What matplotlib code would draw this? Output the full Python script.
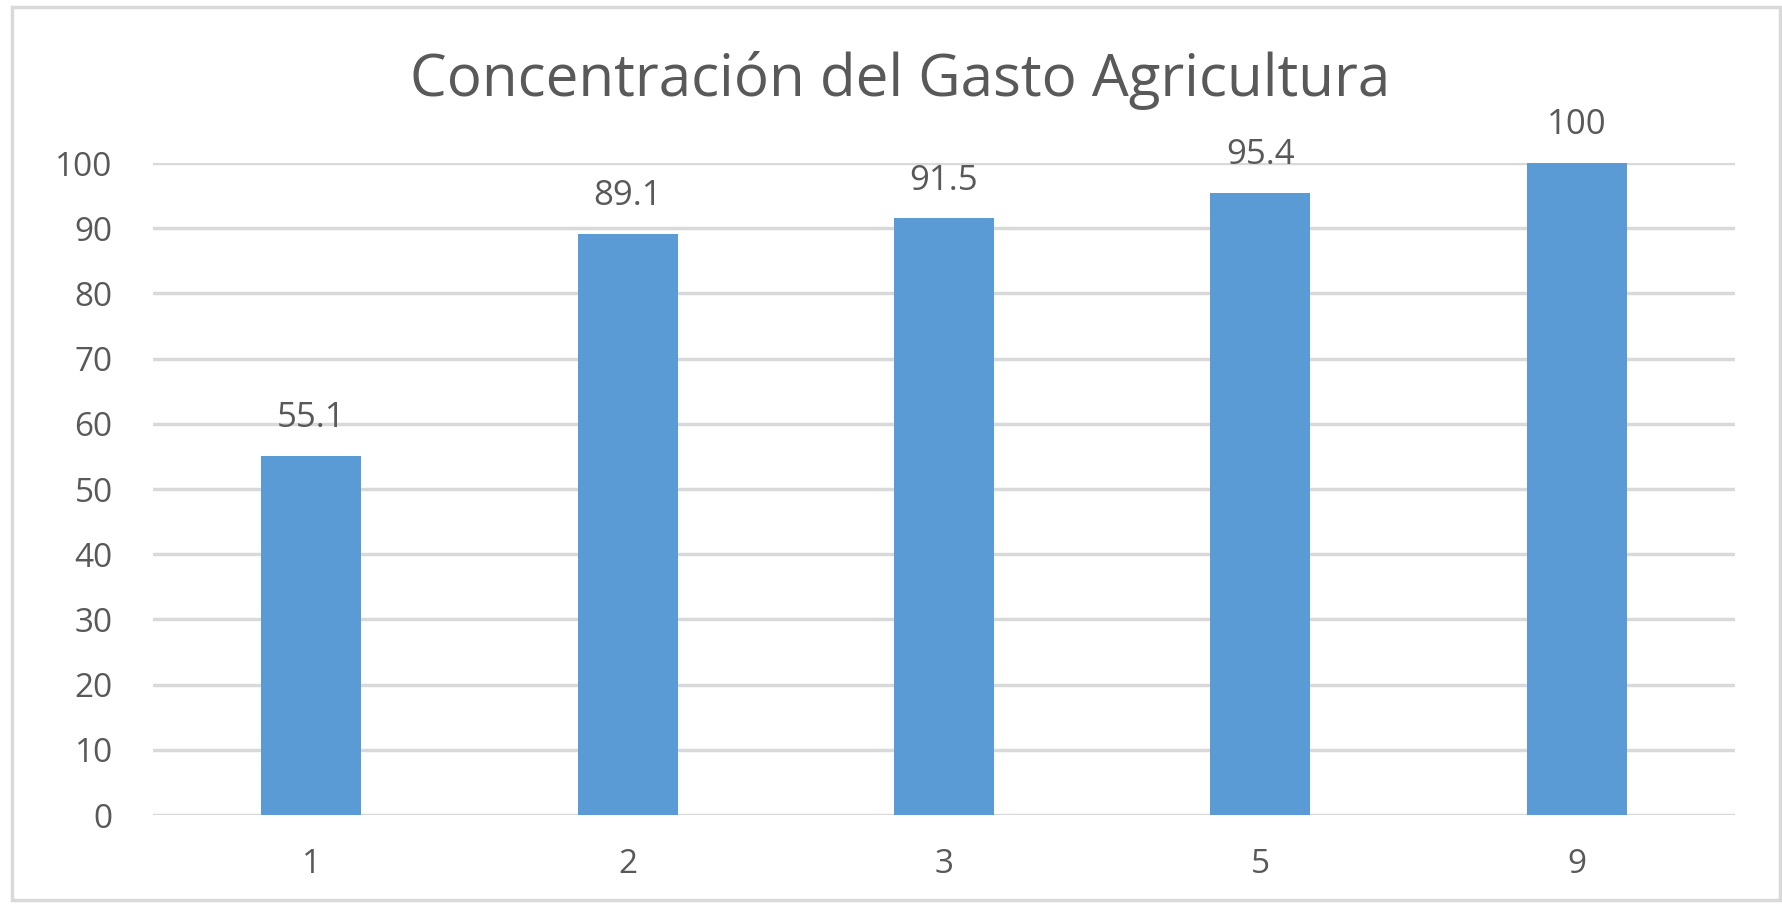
import numpy as np
import matplotlib.pyplot as plt
from matplotlib.patches import Rectangle

categorias = ['1', '2', '3', '5', '9']
valores = [55.1, 89.1, 91.5, 95.4, 100]
yticks = [0, 10, 20, 30, 40, 50, 60, 70, 80, 90, 100]

plt.rcParams['font.family'] = ['Open Sans', 'DejaVu Sans']
gris = '#595959'

fig = plt.figure(figsize=(17.82, 9.06), dpi=100)
W, H = 1782, 906
ax = fig.add_axes([153 / W, 1 - 815 / H, (1735 - 153) / W, (815 - 163) / H])

x = np.arange(len(categorias))
ax.bar(x, valores, width=0.316, color='#5B9BD5', zorder=3)
for xi, v in zip(x, valores):
    ax.annotate(f'{v:g}', (xi, v), xytext=(0, 15), textcoords='offset points',
                ha='center', va='bottom', fontsize=25, color=gris)

ax.set_xlim(-0.5, len(categorias) - 0.5)
ax.set_ylim(0, 100)
ax.set_yticks(yticks)
ax.set_xticks(x)
ax.set_xticklabels(categorias)
ax.grid(axis='y', color='#D9D9D9', linewidth=2.5, zorder=0)
ax.tick_params(length=0, labelsize=24, colors=gris)
ax.tick_params(axis='y', pad=29)
ax.tick_params(axis='x', pad=24)
for s in ax.spines.values():
    s.set_visible(False)

fig.text(900 / W, 1 - 80 / H, 'Concentración del Gasto Agricultura',
         ha='center', va='center', fontsize=42, color=gris)

fig.patches.append(Rectangle((12 / W, 1 - 900 / H), (1780 - 12) / W, (900 - 7) / H,
                             transform=fig.transFigure, fill=False,
                             edgecolor='#D9D9D9', linewidth=2.5))

fig.savefig('out.png', dpi=100)
